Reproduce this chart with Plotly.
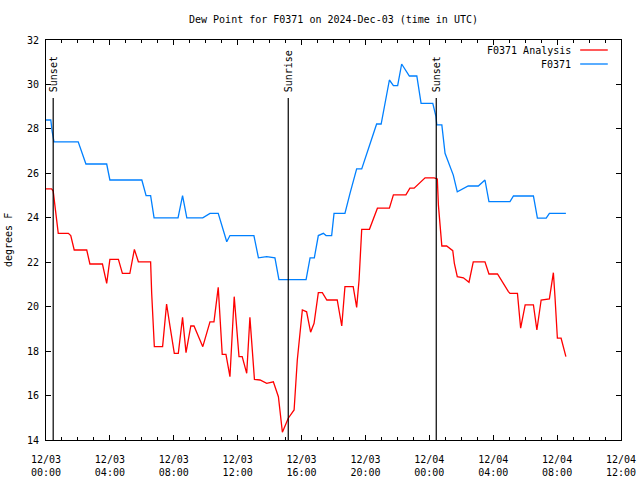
import plotly.graph_objects as go

DAY1 = "2024-12-03"
DAY2 = "2024-12-04"

# F0371 Analysis (red)
ana_times = [
    "00:00", "00:21", "00:27", "00:38", "00:46", "01:24", "01:33", "01:46", "02:33", "02:45",
    "03:32", "03:48", "04:00", "04:32", "04:47", "05:15", "05:32", "05:47", "06:33", "06:37",
    "06:47", "07:18", "07:33", "07:46", "08:02", "08:17", "08:33", "08:46", "09:04", "09:16",
    "09:49", "10:16", "10:31", "10:47", "11:02", "11:16", "11:31", "11:47", "12:05", "12:17",
    "12:34", "12:46", "13:03", "13:24", "13:49", "14:14", "14:33", "14:48", "15:10", "15:32",
    "15:44", "16:03", "16:19", "16:34", "16:47", "17:03", "17:18", "17:35", "18:14", "18:31",
    "18:43", "19:14", "19:27", "19:36", "19:46", "20:15", "20:45", "21:30", "21:45", "22:32",
    "22:47", "23:03", "23:44",
]
ana_times_d2 = [
    "00:18", "00:30", "00:34", "00:43", "00:47", "01:05", "01:28", "01:34", "01:45", "02:08",
    "02:29", "02:45", "03:29", "03:44", "04:16", "04:57", "05:03", "05:31", "05:43", "06:00",
    "06:31", "06:44", "07:00", "07:31", "07:41", "07:46", "07:52", "08:01", "08:15", "08:33",
]
ana_values = [
    25.3, 25.3, 25.2, 24.2, 23.3, 23.3, 23.2, 22.55, 22.55, 21.92,
    21.92, 21.05, 22.13, 22.13, 21.5, 21.5, 22.58, 22.02, 22.02, 20.6,
    18.2, 18.2, 20.12, 19.1, 17.9, 17.9, 19.52, 17.93, 19.13, 19.13,
    18.2, 19.32, 19.32, 20.87, 17.85, 17.85, 16.85, 20.45, 17.75, 17.75,
    17.0, 19.52, 16.73, 16.7, 16.55, 16.62, 15.95, 14.35, 14.98, 15.35,
    17.6, 19.85, 19.77, 18.85, 19.25, 20.63, 20.63, 20.3, 20.3, 19.13,
    20.9, 20.9, 19.97, 21.2, 23.48, 23.48, 24.43, 24.43, 25.03, 25.03,
    25.33, 25.33, 25.8,
    25.8, 25.75, 24.58, 23.15, 22.73, 22.73, 22.52, 21.95, 21.35, 21.3,
    21.1, 22.02, 22.02, 21.47, 21.47, 20.68, 20.6, 20.6, 19.03, 20.08,
    20.08, 18.95, 20.3, 20.35, 21.28, 21.53, 20.45, 18.58, 18.58, 17.75,
]

# F0371 observations (blue)
obs_times = [
    "00:00", "00:18", "00:23", "00:30", "02:01", "02:30", "03:48", "04:00", "06:00", "06:16",
    "06:33", "06:46", "08:16", "08:33", "08:49", "09:49", "10:16", "10:47", "11:19", "11:31",
    "13:01", "13:18", "13:49", "14:20", "14:35", "16:17", "16:32", "16:48", "17:03", "17:22",
    "17:32", "17:53", "18:02", "18:43", "19:02", "19:27", "19:46", "20:42", "20:59", "21:30",
    "21:45", "22:01", "22:16", "22:32", "22:45", "23:13", "23:29",
]
obs_times_d2 = [
    "00:13", "00:25", "00:28", "00:47", "00:59", "01:30", "01:45", "02:26", "03:04", "03:29",
    "03:44", "05:03", "05:16", "06:31", "06:46", "07:19", "07:31", "08:33",
]
obs_values = [
    28.4, 28.4, 27.9, 27.42, 27.42, 26.42, 26.42, 25.7, 25.7, 25.0,
    25.0, 24.0, 24.0, 25.0, 24.0, 24.0, 24.2, 24.2, 22.92, 23.2,
    23.2, 22.2, 22.25, 22.2, 21.22, 21.22, 22.2, 22.2, 23.2, 23.3,
    23.2, 23.2, 24.2, 24.2, 25.1, 26.2, 26.2, 28.22, 28.22, 30.2,
    29.95, 29.95, 30.92, 30.62, 30.38, 30.38, 29.15,
    29.15, 28.55, 28.18, 28.18, 26.9, 25.92, 25.17, 25.43, 25.43, 25.7,
    24.73, 24.73, 24.98, 24.98, 23.98, 23.98, 24.2, 24.2,
]

sun_events = ["2024-12-03 00:27", "2024-12-03 15:10", "2024-12-04 00:26"]
sun_labels = ["Sunset", "Sunrise", "Sunset"]

tick_vals = ["2024-12-03 00:00", "2024-12-03 04:00", "2024-12-03 08:00", "2024-12-03 12:00",
             "2024-12-03 16:00", "2024-12-03 20:00", "2024-12-04 00:00", "2024-12-04 04:00",
             "2024-12-04 08:00", "2024-12-04 12:00"]
tick_text = ["12/03<br>00:00", "12/03<br>04:00", "12/03<br>08:00", "12/03<br>12:00",
             "12/03<br>16:00", "12/03<br>20:00", "12/04<br>00:00", "12/04<br>04:00",
             "12/04<br>08:00", "12/04<br>12:00"]

ana_x = [f"{DAY1} {t}" for t in ana_times] + [f"{DAY2} {t}" for t in ana_times_d2]
obs_x = [f"{DAY1} {t}" for t in obs_times] + [f"{DAY2} {t}" for t in obs_times_d2]

RED = "#ff0000"
BLUE = "#0080ff"
FONT = "DejaVu Sans Mono"

fig = go.Figure()
fig.add_trace(go.Scatter(x=ana_x, y=ana_values, mode="lines", name="F0371 Analysis",
                         line=dict(color=RED, width=1.3), showlegend=False))
fig.add_trace(go.Scatter(x=obs_x, y=obs_values, mode="lines", name="F0371",
                         line=dict(color=BLUE, width=1.3), showlegend=False))

for t, lab in zip(sun_events, sun_labels):
    fig.add_shape(type="line", xref="x", yref="paper", x0=t, x1=t, y0=0, y1=0.855,
                  line=dict(color="black", width=1.2), layer="above")
    fig.add_annotation(x=t, xref="x", y=0.865, yref="paper", text=lab, textangle=-90,
                       showarrow=False, xanchor="center", yanchor="bottom",
                       font=dict(family=FONT, size=10, color="black"))

# legend (text right, sample line to the right)
legend_items = [("F0371 Analysis", RED, 0.975), ("F0371", BLUE, 0.94)]
for txt, col, yy in legend_items:
    fig.add_annotation(x=0.917, xref="paper", y=yy, yref="paper", text=txt, showarrow=False,
                       xanchor="right", yanchor="middle",
                       font=dict(family=FONT, size=10, color="black"))
    fig.add_shape(type="line", xref="paper", yref="paper", x0=0.929, x1=0.977, y0=yy, y1=yy,
                  line=dict(color=col, width=1.3))

# y axis title
fig.add_annotation(x=0, xref="paper", xshift=-38, y=0.5, yref="paper", text="degrees F",
                   showarrow=False, textangle=-90, xanchor="center", yanchor="middle",
                   font=dict(family=FONT, size=10, color="black"))

fig.update_layout(
    width=640, height=480,
    margin=dict(l=46, r=19, t=40, b=40, autoexpand=False),
    paper_bgcolor="white", plot_bgcolor="white",
    font=dict(family=FONT, size=10, color="black"),
    title=dict(text="Dew Point for F0371 on 2024-Dec-03 (time in UTC)", x=0.5, xref="paper",
               xanchor="center", y=1 - 19 / 480, yref="container", yanchor="middle",
               font=dict(family=FONT, size=10)),
    showlegend=False,
)
fig.update_xaxes(
    type="date", range=["2024-12-03 00:00", "2024-12-04 12:00"],
    tickmode="array", tickvals=tick_vals, ticktext=tick_text,
    ticks="inside", ticklen=5, tickwidth=1, tickcolor="black",
    minor=dict(ticks="inside", ticklen=3, dtick=3600000, tickcolor="black", showgrid=False),
    showline=True, linecolor="black", linewidth=1, mirror="ticks",
    showgrid=False, zeroline=False, ticklabelstandoff=10, automargin=False,
    tickfont=dict(family=FONT, size=10),
)
fig.update_yaxes(
    range=[14, 32], dtick=2, tick0=14,
    ticks="inside", ticklen=5, tickwidth=1, tickcolor="black",
    showline=True, linecolor="black", linewidth=1, mirror="ticks",
    showgrid=False, zeroline=False, automargin=False, ticklabelstandoff=4,
    tickfont=dict(family=FONT, size=10),
)

fig.write_html("out.html", config={"displayModeBar": False},
               post_script="document.body.style.margin='0';document.body.style.overflow='hidden';")
